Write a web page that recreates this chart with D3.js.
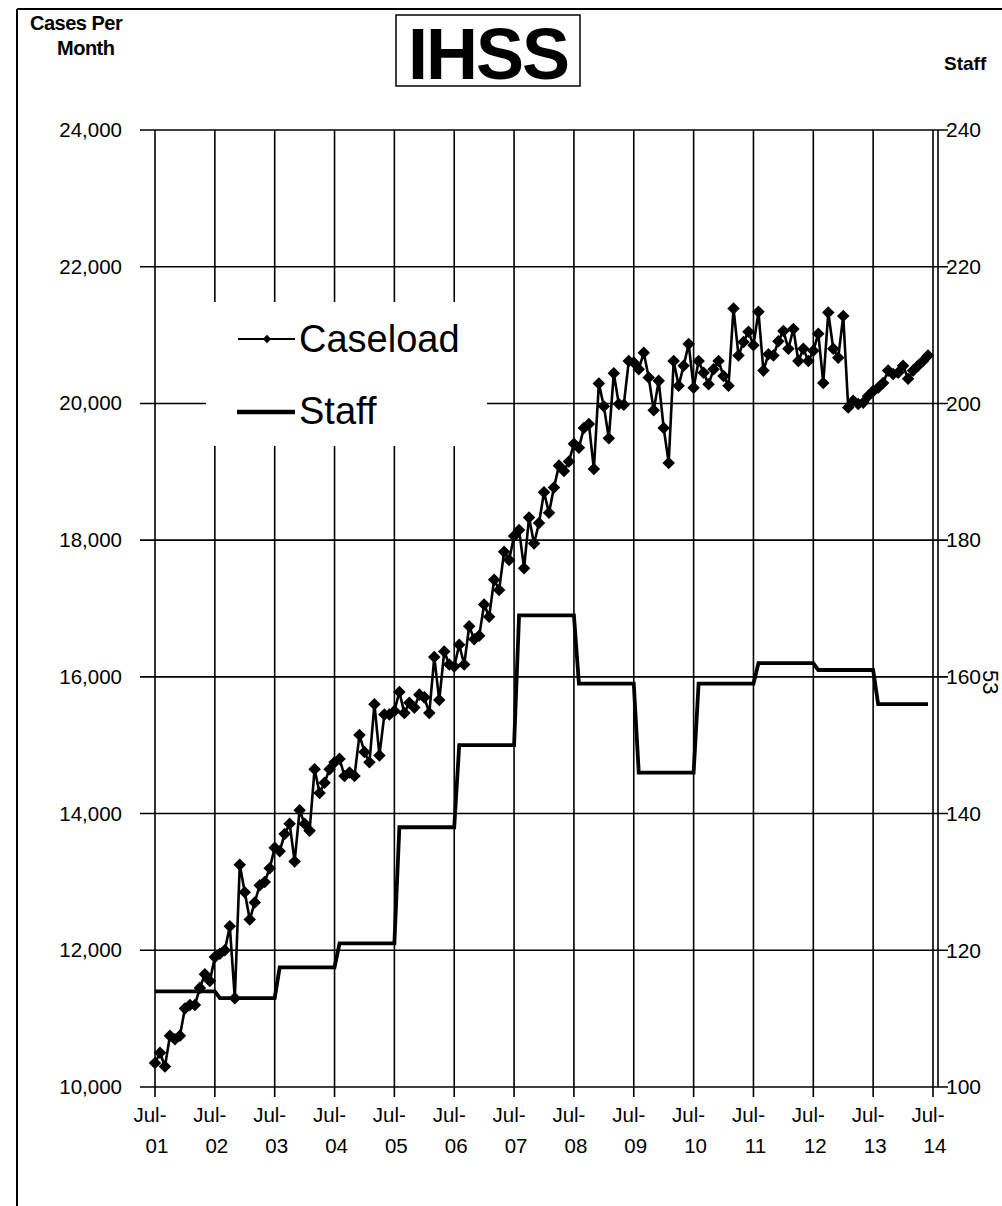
<!DOCTYPE html>
<html>
<head>
<meta charset="utf-8">
<script src="https://cdn.jsdelivr.net/npm/d3@7/dist/d3.min.js"></script>
<style>
  html, body { margin: 0; padding: 0; background: #fff; }
  svg { display: block; }
  text { font-family: "Liberation Sans", Arial, sans-serif; fill: #000; }
</style>
</head>
<body>
<svg id="chart" width="1002" height="1206"></svg>
<script>
// ---- Data ----
const yearLabels = ["01","02","03","04","05","06","07","08","09","10","11","12","13","14"];
const leftTicks = [10000, 12000, 14000, 16000, 18000, 20000, 22000, 24000];
const rightTicks = [100, 120, 140, 160, 180, 200, 220, 240];

// Monthly caseload, Jul-01 .. Jun-14
const caseload = [
  10350, 10500, 10300, 10750, 10700, 10750, 11150, 11200, 11200, 11450, 11650, 11550,
  11900, 11950, 12000, 12350, 11300, 13250, 12850, 12450, 12700, 12950, 13000, 13200,
  13500, 13450, 13700, 13850, 13300, 14050, 13850, 13750, 14650, 14300, 14450, 14650,
  14750, 14800, 14550, 14600, 14550, 15150, 14900, 14750, 15600, 14850, 15450, 15450,
  15500, 15780, 15470, 15620, 15550, 15740, 15700, 15470, 16290, 15660, 16370, 16180,
  16150, 16470, 16180, 16740, 16550, 16600, 17060, 16880, 17420, 17270, 17830, 17710,
  18060, 18150, 17590, 18330, 17950, 18250, 18700, 18400, 18770, 19090, 19010, 19150,
  19410, 19350, 19640, 19700, 19040, 20290, 19960, 19490, 20440, 19990, 19980, 20620,
  20600, 20500, 20740, 20380, 19900, 20330, 19640, 19130, 20620, 20260, 20550, 20870,
  20230, 20620, 20450, 20280, 20500, 20620, 20400, 20260, 21390, 20700, 20900, 21050,
  20850, 21340, 20480, 20720, 20700, 20910, 21060, 20800, 21090, 20620, 20800, 20620,
  20770, 21020, 20300, 21330, 20800, 20670, 21280, 19940, 20040, 19990, 20010, 20110,
  20180, 20230, 20300, 20480, 20430, 20450, 20550, 20360, 20480, 20550, 20620, 20700
];

// Staff per fiscal year (Jul-01 .. Jul-13)
const staff = [114, 113, 117.5, 121, 138, 150, 169, 159, 146, 159, 162, 161, 156];

// ---- Layout ----
const svg = d3.select("#chart");
const x0 = 155, x1 = 933, yTop = 130, yBot = 1087, frameRight = 938;

const x = d3.scaleLinear().domain([0, 156]).range([x0, x1]);
const yL = d3.scaleLinear().domain([10000, 24000]).range([yBot, yTop]);
const yR = d3.scaleLinear().domain([100, 240]).range([yBot, yTop]);

// Outer page border
svg.append("line").attr("x1", 17).attr("y1", 9).attr("x2", 1002).attr("y2", 9)
  .attr("stroke", "#000").attr("stroke-width", 2);
svg.append("line").attr("x1", 17).attr("y1", 9).attr("x2", 17).attr("y2", 1206)
  .attr("stroke", "#000").attr("stroke-width", 2);

// Header texts
svg.append("text").attr("x", 30).attr("y", 30).attr("font-size", 20).attr("font-weight", "bold")
  .attr("letter-spacing", -0.5).text("Cases Per");
svg.append("text").attr("x", 57).attr("y", 55).attr("font-size", 20).attr("font-weight", "bold")
  .attr("letter-spacing", -0.5).text("Month");
svg.append("text").attr("x", 944).attr("y", 70).attr("font-size", 19).attr("font-weight", "bold")
  .text("Staff");

// Title box
svg.append("rect").attr("x", 396).attr("y", 15).attr("width", 184).attr("height", 71)
  .attr("fill", "#fff").attr("stroke", "#000").attr("stroke-width", 1.5);
svg.append("text").attr("x", 488).attr("y", 79).attr("text-anchor", "middle")
  .attr("font-size", 72).attr("font-weight", "bold").attr("letter-spacing", -2).text("IHSS");

// Gridlines
const monthTicks = d3.range(0, 157, 12);
const grid = svg.append("g").attr("stroke", "#000").attr("stroke-width", 1.6);
grid.selectAll("line.v").data(monthTicks).join("line")
  .attr("x1", d => x(d)).attr("x2", d => x(d))
  .attr("y1", yTop).attr("y2", yBot + 10);
grid.selectAll("line.h").data(leftTicks).join("line")
  .attr("x1", x0 - 15).attr("x2", frameRight + 10)
  .attr("y1", d => yL(d)).attr("y2", d => yL(d));
// right frame line
grid.append("line").attr("x1", frameRight).attr("x2", frameRight)
  .attr("y1", yTop).attr("y2", yBot);

// Left axis labels
const leftAxis = d3.axisLeft(yL).tickValues(leftTicks).tickSize(0).tickPadding(33)
  .tickFormat(d3.format(","));
const gL = svg.append("g").attr("transform", `translate(${x0},0)`).call(leftAxis);
gL.select(".domain").remove();
gL.selectAll("text").attr("font-size", 20.5).attr("font-family", "Liberation Sans, Arial, sans-serif");

// Right axis labels
const rightAxis = d3.axisRight(yR).tickValues(rightTicks).tickSize(0).tickPadding(8);
const gR = svg.append("g").attr("transform", `translate(${frameRight},0)`).call(rightAxis);
gR.select(".domain").remove();
gR.selectAll("text").attr("font-size", 21).attr("font-family", "Liberation Sans, Arial, sans-serif");

// Bottom labels
const gx = svg.append("g");
gx.selectAll("text.a").data(monthTicks).join("text")
  .attr("x", d => x(d) - 5).attr("y", 1122).attr("text-anchor", "middle")
  .attr("font-size", 20.5).text("Jul-");
gx.selectAll("text.b").data(monthTicks).join("text")
  .attr("x", d => x(d) + 2).attr("y", 1153).attr("text-anchor", "middle")
  .attr("font-size", 20.5).text((d, i) => yearLabels[i]);

// Legend (white box over gridlines)
svg.append("rect").attr("x", 206).attr("y", 302).attr("width", 281).attr("height", 144)
  .attr("fill", "#fff");
svg.append("line").attr("x1", 238).attr("x2", 295).attr("y1", 339).attr("y2", 339)
  .attr("stroke", "#000").attr("stroke-width", 2);
svg.append("path").attr("transform", "translate(267,339)")
  .attr("d", d3.symbol(d3.symbolDiamond2, 45)()).attr("fill", "#000");
svg.append("text").attr("x", 299).attr("y", 352).attr("font-size", 38).text("Caseload");
svg.append("line").attr("x1", 237).attr("x2", 295).attr("y1", 412).attr("y2", 412)
  .attr("stroke", "#000").attr("stroke-width", 4.5);
svg.append("text").attr("x", 299).attr("y", 424).attr("font-size", 38).text("Staff");

// Staff step line
const staffPts = [];
staff.forEach((v, k) => {
  const start = k === 0 ? 0 : 12 * k + 1;
  const end = k === staff.length - 1 ? 155 : 12 * k + 12;
  staffPts.push([start, v], [end, v]);
});
svg.append("path").datum(staffPts)
  .attr("fill", "none").attr("stroke", "#000").attr("stroke-width", 3.8)
  .attr("stroke-linejoin", "miter")
  .attr("d", d3.line().x(d => x(d[0])).y(d => yR(d[1])));

// Caseload line with diamond markers
svg.append("path").datum(caseload)
  .attr("fill", "none").attr("stroke", "#000").attr("stroke-width", 2.6)
  .attr("d", d3.line().x((d, i) => x(i)).y(d => yL(d)));
svg.append("g").selectAll("path").data(caseload).join("path")
  .attr("transform", (d, i) => `translate(${x(i)},${yL(d)})`)
  .attr("d", d3.symbol(d3.symbolDiamond2, 100)()).attr("fill", "#000");

// page number
svg.append("text").attr("transform", "translate(983,670) rotate(90)")
  .attr("font-size", 22).text("53");
</script>
</body>
</html>
